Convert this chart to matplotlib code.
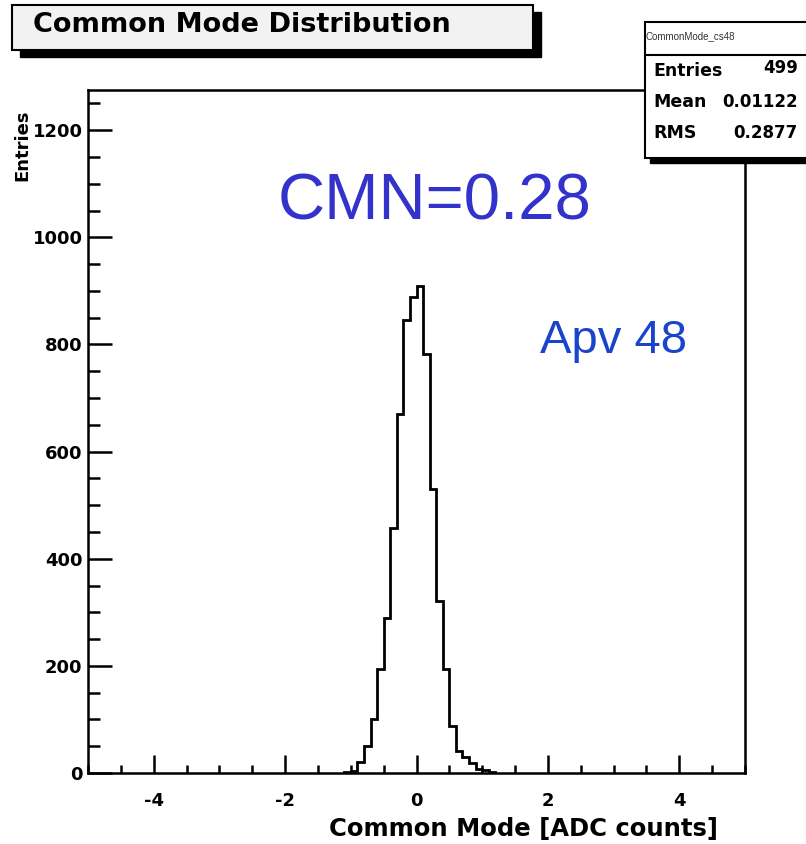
import numpy as np
import matplotlib.pyplot as plt
from matplotlib.patches import Rectangle
from matplotlib.ticker import MultipleLocator

# bin edges of the non-empty part of the histogram (0.1 wide bins)
bin_lo = -1.1
bin_hi = 1.2
counts = [2, 4, 20, 50, 100, 194, 290, 458, 670, 845, 888,
          910, 782, 530, 321, 194, 88, 41, 29, 19, 8, 5, 2]

stats_labels = ["Entries", "Mean", "RMS"]
stats_values = ["499", "0.01122", "0.2877"]

plt.rcParams['font.family'] = ['DejaVu Sans']
plt.rcParams['axes.unicode_minus'] = False

W, H = 806, 844
fig = plt.figure(figsize=(W / 100, H / 100), dpi=100)
ax = fig.add_axes([88 / W, 1 - 773 / H, (745 - 88) / W, (773 - 90) / H])

edges = np.linspace(bin_lo, bin_hi, len(counts) + 1)
ax.stairs(counts, edges, color='black', linewidth=2)

ax.set_xlim(-5, 5)
ax.set_ylim(0, 1275)
ax.xaxis.set_major_locator(MultipleLocator(2))
ax.xaxis.set_minor_locator(MultipleLocator(0.5))
ax.yaxis.set_major_locator(MultipleLocator(200))
ax.yaxis.set_minor_locator(MultipleLocator(50))
ax.tick_params(axis='both', which='both', direction='in', width=1.8, colors='black',
               top=False, right=False, labelsize=13)
ax.tick_params(axis='x', which='major', length=13, pad=14)
ax.tick_params(axis='x', which='minor', length=6)
ax.tick_params(axis='y', which='major', length=17, pad=4)
ax.tick_params(axis='y', which='minor', length=8.5)
for lab in ax.get_xticklabels() + ax.get_yticklabels():
    lab.set_fontweight('bold')
for s in ax.spines.values():
    s.set_linewidth(1.8)

fig.text(718 / W, 1 - 829 / H, "Common Mode [ADC counts]", fontsize=17.5, fontweight='bold',
         ha='right', va='center')
fig.text(22 / W, 1 - 145 / H, "Entries", rotation=90, fontsize=13, fontweight='bold',
         ha='center', va='center')

# annotations
fig.text(435 / W, 1 - 202 / H, "CMN=0.28", color='#3333cc', fontsize=47,
         family='Liberation Sans', ha='center', va='center')
fig.text(613 / W, 1 - 341 / H, "Apv 48", color='#1a44cc', fontsize=34,
         family='Liberation Sans', ha='center', va='center')

# title box with shadow
fig.patches.append(Rectangle((20 / W, 1 - 57 / H), 521 / W, 45 / H, transform=fig.transFigure,
                             facecolor='black', edgecolor='black', zorder=1))
fig.patches.append(Rectangle((12 / W, 1 - 50 / H), 521 / W, 45 / H, transform=fig.transFigure,
                             facecolor='#f2f2f2', edgecolor='black', linewidth=1.5, zorder=2))
fig.text(33 / W, 1 - 25 / H, "Common Mode Distribution", fontsize=19.5, fontweight='bold',
         ha='left', va='center', zorder=3)

# stats box
fig.patches.append(Rectangle((650 / W, 1 - 163 / H), 170 / W, 136 / H, transform=fig.transFigure,
                             facecolor='black', edgecolor='black', zorder=1))
fig.patches.append(Rectangle((645 / W, 1 - 158 / H), 170 / W, 136 / H, transform=fig.transFigure,
                             facecolor='white', edgecolor='black', linewidth=1.5, zorder=2))
fig.add_artist(plt.Line2D([645 / W, 806 / W], [1 - 55 / H, 1 - 55 / H],
                          transform=fig.transFigure, color='black', linewidth=1.5, zorder=3))
fig.text(645 / W, 1 - 36 / H, "CommonMode_cs48", fontsize=7, family='Liberation Sans',
         ha='left', va='center', color='#333333', zorder=3)
for i, (lab, val) in enumerate(zip(stats_labels, stats_values)):
    y = 1 - (71 + 31 * i) / H
    fig.text(653 / W, y, lab, fontsize=12.5, fontweight='bold', ha='left', va='center', zorder=3)
    fig.text(798 / W, y + 3 / H if i == 0 else y, val, fontsize=12, fontweight='bold',
             ha='right', va='center', zorder=3)

fig.savefig("out.png", dpi=100, facecolor='white')
